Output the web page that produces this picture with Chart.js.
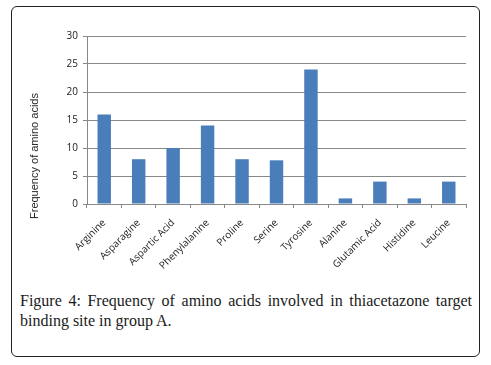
<!DOCTYPE html>
<html>
<head>
<meta charset="utf-8">
<script src="https://cdn.jsdelivr.net/npm/chart.js@4/dist/chart.umd.min.js"></script>
<style>
  html, body { margin: 0; padding: 0; background: #fff; }
  #wrap { position: relative; width: 491px; height: 365px; overflow: hidden; }
  #frame { position: absolute; left: 11px; top: 6px; width: 467px; height: 349px;
           border: 1.5px solid #222; border-radius: 6px; }
  #cv { position: absolute; left: 0; top: 0; }
  #ytitle { position: absolute; left: 34px; top: 156px; transform: translate(-50%, -50%) rotate(-90deg);
            font-family: "Liberation Sans", sans-serif; font-weight: 400; font-size: 11px; color: #222; white-space: nowrap; }
  #cap { position: absolute; left: 20px; top: 291px; width: 452px;
         font-family: "Liberation Serif", serif; font-size: 16px; line-height: 20px; color: #1a1a1a; }
  #cap .l1 { text-align: justify; text-align-last: justify; white-space: nowrap; }
</style>
</head>
<body>
<div id="wrap">
  <div id="frame"></div>
  <canvas id="cv" width="491" height="290"></canvas>
  <div id="ytitle">Frequency of amino acids</div>
  <div id="cap">
    <div class="l1">Figure 4: Frequency of amino acids involved in thiacetazone target</div>
    <div>binding site in group A.</div>
  </div>
</div>
<script>
const categories = ["Arginine", "Asparagine", "Aspartic Acid", "Phenylalanine", "Proline", "Serine",
                    "Tyrosine", "Alanine", "Glutamic Acid", "Histidine", "Leucine"];
const frequency = [16, 8, 10, 14, 8, 7.8, 24, 1, 4, 1, 4];
const yTicks = [0, 5, 10, 15, 20, 25, 30];

new Chart(document.getElementById('cv'), {
  type: 'bar',
  data: {
    labels: categories,
    datasets: [{
      data: frequency,
      backgroundColor: '#4a7ebb',
      borderWidth: 0,
      categoryPercentage: 1,
      barPercentage: 0.39
    }]
  },
  options: {
    responsive: false,
    animation: false,
    plugins: { legend: { display: false }, tooltip: { enabled: false } },
    layout: { padding: { top: 36, right: 25, left: 0, bottom: 0 } },
    scales: {
      x: {
        offset: true,
        grid: { offset: true, drawOnChartArea: false, drawTicks: true, tickLength: 4, color: '#888' },
        border: { color: '#888', width: 1 },
        ticks: { minRotation: 45, maxRotation: 45, autoSkip: false, padding: 9,
                 color: '#222', font: { family: 'Open Sans', size: 10 } },
        afterFit: s => { s.height = 86; }
      },
      y: {
        min: 0, max: 30,
        afterBuildTicks: s => { s.ticks = yTicks.map(v => ({ value: v })); },
        grid: { color: '#888', tickLength: 4, lineWidth: 1 },
        border: { color: '#888', width: 1 },
        ticks: { padding: 5, color: '#222', font: { family: 'Open Sans', size: 10 } },
        afterFit: s => { s.width = 87; }
      }
    }
  }
});
</script>
</body>
</html>
